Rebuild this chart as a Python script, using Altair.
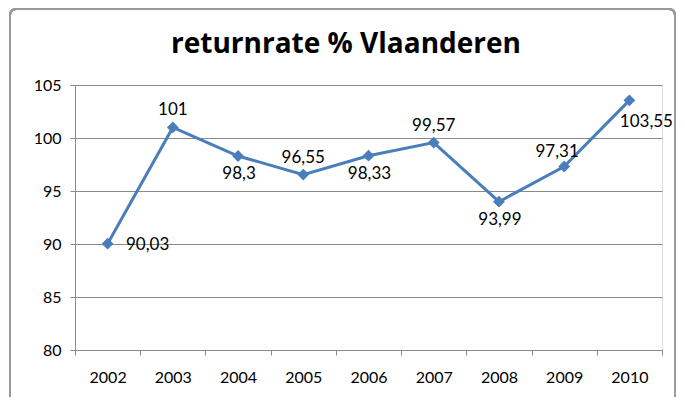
import altair as alt
import pandas as pd

years = ["2002", "2003", "2004", "2005", "2006", "2007", "2008", "2009", "2010"]
values = [90.03, 101, 98.3, 96.55, 98.33, 99.57, 93.99, 97.31, 103.55]
labels = ["90,03", "101", "98,3", "96,55", "98,33", "99,57", "93,99", "97,31", "103,55"]
title_text = ["returnrate % Vlaanderen"]

df = pd.DataFrame({"year": years, "value": values, "label": labels})
tdf = pd.DataFrame({"t": title_text})

# label placement groups (style only)
above = ["2003", "2005", "2007"]
below = ["2004", "2006", "2008"]
right = ["2002"]
above_left = ["2009"]
below_right = ["2010"]

FONT = "Lato"
BLUE = "#4A7EBB"
GRID = "#8a8a8a"

x = alt.X("year:N", title=None,
          scale=alt.Scale(paddingInner=0, paddingOuter=0),
          axis=alt.Axis(labelAngle=0, tickBand="extent", domainColor=GRID,
                        tickColor=GRID, tickSize=5, labelPadding=14,
                        labelFont=FONT, labelFontSize=16, labelColor="#000"))
y = alt.Y("value:Q", title=None,
          scale=alt.Scale(domain=[80, 105], nice=False, zero=False),
          axis=alt.Axis(values=[80, 85, 90, 95, 100, 105], grid=True,
                        gridColor=GRID, gridWidth=1, domainColor=GRID,
                        tickColor=GRID, tickSize=5, labelPadding=9,
                        labelFont=FONT, labelFontSize=16, labelColor="#000"))

base = alt.Chart(df)

frame = base.mark_rect(fill=None, stroke="#9a9a9a", strokeWidth=2,
                       cornerRadius=6).encode(
    x=alt.value(-65), x2=alt.value(600), y=alt.value(-76), y2=alt.value(340)
)

title = alt.Chart(tdf).mark_text(font="Open Sans", fontSize=28, fontWeight="bold",
                                 color="#000", align="center",
                                 baseline="alphabetic").encode(
    x=alt.value(271), y=alt.value(-32), text="t:N"
)

line = base.mark_line(color=BLUE, strokeWidth=3).encode(x=x, y=y)
pts = base.mark_point(shape="diamond", filled=True, color=BLUE, size=140,
                      opacity=1).encode(x=x, y=y)

def lab(group, dx, dy, align="center"):
    return base.transform_filter(
        alt.FieldOneOfPredicate(field="year", oneOf=group)
    ).mark_text(font=FONT, fontSize=17, color="#000", dx=dx, dy=dy,
                align=align, baseline="middle").encode(x=x, y=y, text="label:N")

texts = [
    lab(above, 0, -17),
    lab(below, 1, 18),
    lab(right, 40, 1),
    lab(above_left, -7, -15),
    lab(below_right, 17, 22),
]

chart = alt.layer(frame, title, line, pts, *texts).properties(
    width=587, height=265,
    autosize=alt.AutoSizeParams(type="none"),
    padding={"left": 67, "top": 77, "right": 15, "bottom": 47},
).configure_view(stroke=None).configure(background="white")

chart.save("out.html", embed_options={"renderer": "svg", "actions": False})
